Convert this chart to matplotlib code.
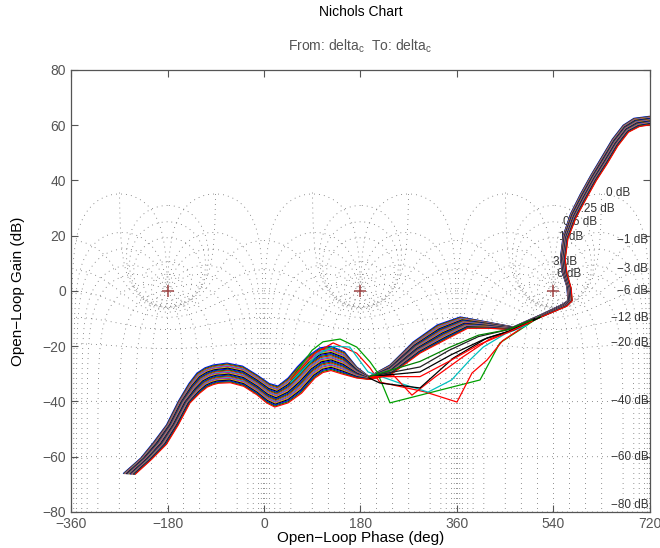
"""
Nichols chart of a sampled uncertain loop (delta_c -> delta_c).
Saves to out.png.
"""

import numpy as np
import matplotlib
matplotlib.use("Agg")
import matplotlib.pyplot as plt

plt.rcParams["font.family"] = ["Liberation Sans", "DejaVu Sans"]
plt.rcParams["mathtext.default"] = "regular"

OUT_PATH = "out.png"

# closed-loop gain contours (dB) and closed-loop phase contours (deg)
GRID_GAINS = [6, 3, 1, 0.5, 0.25, 0, -1, -3, -6, -12, -20, -40, -60, -80]
GRID_PHASES = [1, 5, 10, 20, 30, 50, 90, 120, 150, 180]

# where the contour labels sit (phase, gain)
POS_LABELS = ["6 dB", "3 dB", "1 dB", "0.5 dB", "0.25 dB", "0 dB"]
POS_LABEL_PH = [547, 540, 551, 557, 578, 638]
POS_LABEL_DB = [6.3, 10.6, 19.5, 24.8, 29.8, 35.5]
NEG_LABELS = ["−1 dB", "−3 dB", "−6 dB", "−12 dB", "−20 dB", "−40 dB", "−60 dB", "−80 dB"]
NEG_LABEL_DB = [18.3, 7.8, 0.0, -9.6, -18.8, -40.0, -60.0, -77.5]

# envelope of the dense band of samples (open-loop phase deg, gain dB)
UPPER_PH = [-262, -230, -207, -182, -160, -140, -125, -110, -95, -69, -40, -13, 10, 26,
            45, 62, 80, 104, 125, 150, 173, 196, 235, 278, 323, 366, 416, 465, 515, 555,
            567, 565, 556, 553, 558, 572, 590, 610, 630, 650, 670, 690, 730]
UPPER_DB = [-66.0, -60.5, -55.0, -48.5, -40.0, -33.5, -29.7, -27.8, -26.8, -26.1, -27.2,
            -30.4, -33.5, -34.4, -31.5, -27.5, -23.9, -20.6, -20.0, -22.0, -27.5, -31.0,
            -26.8, -18.5, -12.3, -9.4, -11.2, -13.0, -8.7, -5.0, -3.5, 1.5, 7.0, 12.0,
            20.0, 28.0, 35.0, 42.0, 48.5, 55.0, 60.0, 62.5, 63.5]
LOWER_PH = [-240, -210, -182, -160, -138, -120, -106, -95, -85, -63, -38, -13, 5, 20,
            45, 70, 95, 110, 125, 145, 173, 196, 235, 291, 340, 380, 420, 465, 515, 565,
            575, 573, 565, 562, 567, 582, 600, 620, 640, 660, 680, 700, 730]
LOWER_DB = [-66.3, -61.0, -55.5, -48.5, -40.5, -37.0, -34.8, -33.9, -33.4, -33.2, -34.5,
            -37.6, -40.5, -42.0, -40.5, -37.0, -31.5, -29.5, -28.8, -30.0, -31.5, -32.0,
            -30.5, -22.5, -17.5, -13.5, -13.5, -14.0, -9.6, -5.5, -3.5, 1.0, 6.5, 11.5,
            19.0, 26.5, 33.0, 40.0, 46.0, 52.5, 57.5, 59.5, 60.5]
N_SAMPLES = 24

# samples that leave the band between 50 and 520 deg
OUTLIERS = {
    "green":  ([50, 90, 110, 142, 173, 198, 211, 235, 403, 440, 477, 515],
               [-32.0, -21.4, -18.4, -17.4, -20.3, -25.7, -29.3, -40.5, -32.2, -18.8, -14.1, -9.2]),
    "red":    ([50, 95, 129, 173, 198, 216, 300, 360, 388, 416, 445, 480],
               [-32.0, -22.5, -18.8, -22.5, -27.9, -33.0, -36.5, -40.2, -29.7, -25.0, -18.0, -13.5]),
    "cyan":   ([50, 100, 130, 160, 194, 254, 306, 350, 384, 409, 450, 490],
               [-33.0, -23.0, -20.0, -20.3, -29.3, -33.4, -36.6, -32.2, -25.0, -20.3, -15.5, -12.5]),
    "red2":   ([195, 241, 276, 320, 370, 420, 470],
               [-31.5, -30.4, -37.7, -31.0, -24.0, -17.5, -13.5]),
    "black":  ([196, 216, 291, 353, 416, 465, 515],
               [-31.5, -33.3, -35.1, -24.3, -17.0, -14.2, -9.5]),
    "black2": ([196, 291, 350, 410, 460, 505],
               [-31.0, -29.3, -23.0, -17.5, -14.3, -10.0]),
    "black3": ([196, 291, 345, 400, 455, 500],
               [-31.0, -27.5, -21.5, -16.5, -14.0, -10.5]),
    "red3":   ([196, 291, 345, 400, 455, 500],
               [-31.0, -31.0, -25.5, -19.5, -15.0, -11.0]),
    "green2": ([196, 291, 345, 400, 455, 500],
               [-31.0, -25.5, -20.5, -16.0, -14.0, -10.5]),
}

MATLAB_COLORS = ["#0000FF", "#008000", "#FF0000", "#00BFBF", "#BF00BF", "#BFBF00", "#000000"]
OUTLIER_COLORS = {"green": "#00A000", "red": "#FF0000", "cyan": "#00BFBF", "red2": "#FF0000",
                  "black": "#000000", "black2": "#000000", "black3": "#202020",
                  "red3": "#FF0000", "green2": "#008000"}

GRID_C = "#6a6a6a"
AX_C = "#555555"
DOTS = (0, (1, 5))


def norm_phase(ph, ref_idx):
    # shift an unwrapped phase curve so that ref point sits at -180
    k = np.round((-180 - ph[ref_idx]) / 360.0)
    return ph + 360 * k


def draw_grid(ax):
    for gdb in GRID_GAINS:
        m = 10 ** (gdb / 20.0)
        if gdb == 0:
            th = np.linspace(-359.05, -0.95, 3001)
        else:
            th = np.linspace(-360, 0, 3001)
        t = m * np.exp(1j * np.radians(th))
        g = t / (1 - t)
        ph = norm_phase(np.degrees(np.unwrap(np.angle(g))), len(th) // 2)
        gain = 20 * np.log10(np.abs(g))
        for k in range(3):
            ax.plot(ph + 360 * k, gain, color=GRID_C, lw=0.6, ls=DOTS, zorder=1)

    mags = np.logspace(-6, 5, 6000)
    cl_phases = [-p for p in GRID_PHASES] + [-(360 - p) for p in GRID_PHASES if p != 180]
    for p in cl_phases:
        t = mags * np.exp(1j * np.radians(p))
        g = t / (1 - t)
        ph = norm_phase(np.degrees(np.unwrap(np.angle(g))), -1)
        gain = 20 * np.log10(np.abs(g))
        for k in range(3):
            ax.plot(ph + 360 * k, gain, color=GRID_C, lw=0.6, ls=DOTS, zorder=1)

    for k in range(3):
        ax.plot(-180 + 360 * k, 0, "+", color="#A04848", ms=9, mew=1.1, zorder=4)

    for lab, x, y in zip(POS_LABELS, POS_LABEL_PH, POS_LABEL_DB):
        ax.text(x, y, lab, fontsize=8.5, color="#333333", ha="left", va="center", zorder=2)
    for lab, y in zip(NEG_LABELS, NEG_LABEL_DB):
        ax.text(717, y, lab, fontsize=8.5, color="#333333", ha="right", va="center", zorder=2)


def plot():
    fig = plt.figure(figsize=(6.6, 5.48), dpi=100, facecolor="white")
    ax = fig.add_axes([0.1076, 0.0657, 0.8772, 0.8066])

    draw_grid(ax)

    up_ph, up_db = np.array(UPPER_PH), np.array(UPPER_DB)
    lo_ph, lo_db = np.array(LOWER_PH), np.array(LOWER_DB)
    for i, w in enumerate(np.linspace(0, 1, N_SAMPLES)):
        ax.plot(up_ph + w * (lo_ph - up_ph), up_db + w * (lo_db - up_db),
                color=MATLAB_COLORS[i % 7], lw=0.85, zorder=3)

    for name, (ph, db) in OUTLIERS.items():
        ax.plot(ph, db, color=OUTLIER_COLORS[name], lw=0.9, zorder=3)

    ax.set_xlim(-360, 720)
    ax.set_ylim(-80, 80)
    ax.set_xticks([-360, -180, 0, 180, 360, 540, 720])
    ax.set_yticks(range(-80, 81, 20))
    ax.tick_params(direction="in", length=5, width=0.8, colors=AX_C, labelsize=10,
                   top=True, right=True, labelcolor="#555555")
    for s in ax.spines.values():
        s.set_color(AX_C)
        s.set_linewidth(0.9)

    fig.text(0.546, 0.978, "Nichols Chart", ha="center", va="center", fontsize=10, color="black")
    fig.text(0.546, 0.916, r"From: delta$_c$  To: delta$_c$", ha="center", va="center",
             fontsize=10, color="#555555")
    fig.text(0.546, 0.018, "Open−Loop Phase (deg)", ha="center", va="center", fontsize=11)
    fig.text(0.027, 0.469, "Open−Loop Gain (dB)", ha="center", va="center", fontsize=11,
             rotation=90)

    fig.savefig(OUT_PATH, dpi=100, facecolor="white")


if __name__ == "__main__":
    plot()
